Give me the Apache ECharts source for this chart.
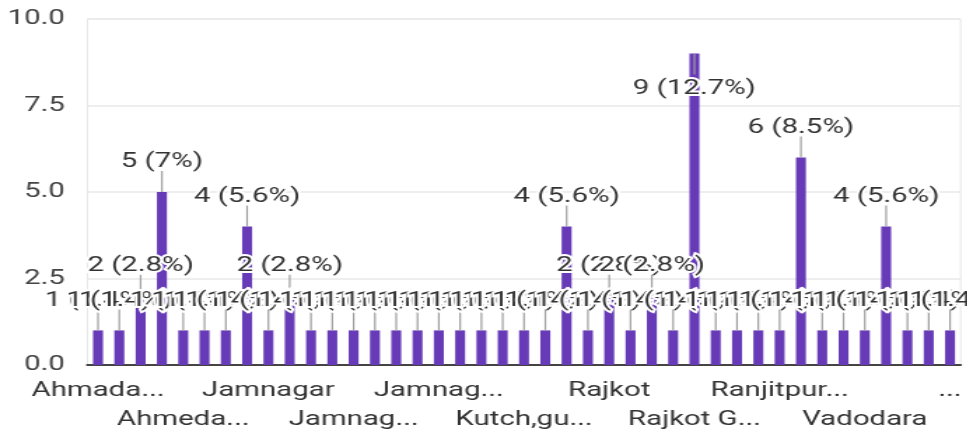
<!DOCTYPE html>
<html>
<head>
<meta charset="utf-8">
<script src="https://cdn.jsdelivr.net/npm/echarts@6/dist/echarts.min.js"></script>
<style>
  html, body { margin: 0; padding: 0; background: #fff; overflow: hidden; }
  /* the reference is stretched sideways, so draw narrow and stretch */
  #main { width: 691px; height: 430px; transform: scaleX(1.4); transform-origin: 0 0; }
</style>
</head>
<body>
<div id="main"></div>
<script>
  // axis text as it shows in the picture (long names already cut)
  var categories = [
    'Ahmada...', 'Ahmadabad City', 'Ahmadabad Rural', 'Ahmadabad West',
    'Ahmeda...', 'Ahmedabad East', 'Amreli', 'Anand',
    'Jamnagar', 'Jamnagar City', 'Jamnagar Rural', 'Jamnagar, Gujarat',
    'Jamnag...', 'Jamnagar Dist', 'Jamnagar Town', 'Jamnagar West',
    'Jamnag...', 'Junagadh', 'Kalavad', 'Khambhalia',
    'Kutch,gu...', 'Kutch Bhuj', 'Morbi', 'Porbandar',
    'Rajkot', 'Rajkot City', 'Rajkot, Gujarat', 'Rajkot East',
    'Rajkot G...', 'Rajkot Rural', 'Rajkot West', 'Ranavav',
    'Ranjitpur...', 'Surat', 'Surendranagar', 'Una',
    'Vadodara', 'Vadodara City', 'Valsad', 'Vapi',
    '...'
  ];
  var counts = [
    1, 1, 2, 5, 1, 1, 1, 4, 1, 2, 1,
    1, 1, 1, 1, 1, 1, 1, 1, 1, 1, 1,
    4, 1, 2, 1, 2, 1, 9, 1, 1, 1, 1,
    6, 1, 1, 1, 4, 1, 1, 1
  ];
  var yTicks = [0, 2.5, 5, 7.5, 10];

  var total = counts.reduce(function (a, b) { return a + b; }, 0);

  var labelFont = { color: '#333', fontFamily: 'Roboto', fontSize: 21 };

  // two rows of category labels: one axis for each row
  function rowAxis(offsetIdx, margin, showLine) {
    return {
      type: 'category',
      data: categories,
      position: 'bottom',
      axisLine: { show: showLine, lineStyle: { color: '#444', width: 2 } },
      axisTick: { show: false },
      splitLine: { show: false },
      axisLabel: Object.assign({
        margin: margin,
        showMinLabel: true,
        showMaxLabel: true,
        interval: function (i) { return i % 8 === offsetIdx; }
      }, labelFont)
    };
  }

  var chart = echarts.init(document.getElementById('main'));

  chart.setOption({
    animation: false,
    grid: {
      left: 62.4, right: 4.8, top: 19, bottom: 65,
      outerBoundsMode: 'none',
      containLabel: false,
      show: true, borderColor: '#e6e6e6', borderWidth: 1
    },
    xAxis: [rowAxis(0, 15, true), rowAxis(4, 44, false)],
    yAxis: {
      type: 'value',
      min: yTicks[0],
      max: yTicks[yTicks.length - 1],
      interval: yTicks[1] - yTicks[0],
      axisLine: { show: false },
      axisTick: { show: false },
      splitLine: { lineStyle: { color: '#e8e8e8', width: 1.5 } },
      axisLabel: {
        margin: 16,
        color: '#444',
        fontFamily: 'Roboto',
        fontSize: 21,
        formatter: function (v) { return v.toFixed(1); }
      }
    },
    series: [
      {
        type: 'bar',
        data: counts,
        barWidth: 7.1,
        itemStyle: { color: '#673ab7' }
      },
      {
        // value labels with their grey stems, Google Forms style
        type: 'custom',
        data: counts.map(function (v, i) { return [i, v]; }),
        z: 5,
        renderItem: function (params, api) {
          var v = api.value(1);
          var p = api.coord([api.value(0), v]);
          var inside = p[1] - params.coordSys.y < 45;
          var dir = inside ? 1 : -1;
          var pct = Math.round(v / total * 1000) / 10;
          return {
            type: 'group',
            children: [
              {
                type: 'line',
                shape: { x1: p[0], y1: p[1], x2: p[0], y2: p[1] + dir * 21 },
                style: { stroke: '#9e9e9e', lineWidth: 1.2 }
              },
              {
                type: 'text',
                x: p[0],
                y: p[1] + dir * (inside ? 35 : 30),
                style: {
                  text: v + ' (' + pct + '%)',
                  align: 'center',
                  verticalAlign: 'middle',
                  fontFamily: 'Roboto',
                  fontSize: 21,
                  fill: '#333',
                  stroke: '#fff',
                  lineWidth: 4
                }
              }
            ]
          };
        }
      }
    ]
  });
</script>
</body>
</html>
